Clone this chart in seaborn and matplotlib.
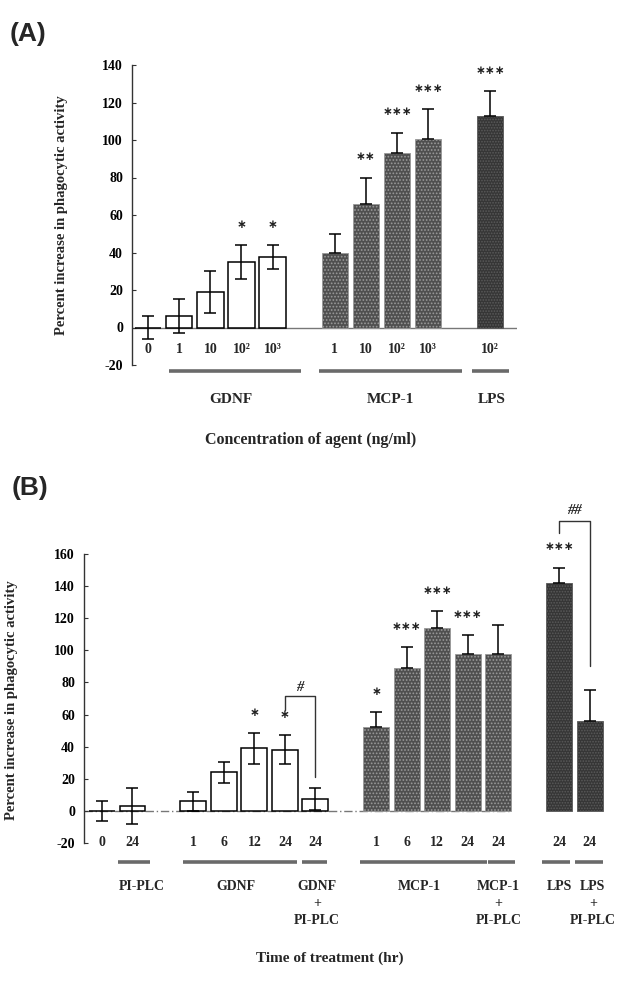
import matplotlib
matplotlib.use("Agg")
import matplotlib.pyplot as plt
import numpy as np
import pandas as pd
import seaborn as sns

# ---------------- Panel A data ----------------
a_keys = ["G0", "G1", "G10", "G100", "G1000", "M1", "M10", "M100", "M1000", "L100"]
a_ticklabels = ["0", "1", "10", "10²", "10³", "1", "10", "10²", "10³", "10²"]
a_kind = ["white", "white", "white", "white", "white", "mcp", "mcp", "mcp", "mcp", "lps"]
a_values = [0, 6, 19, 35, 37.5, 40, 66, 93, 100.5, 113]
a_errors = [6, 9, 11, 9, 6.5, 10, 14, 11, 16, 13]
a_stars = ["", "", "", "*", "*", "", "**", "***", "***", "***"]
a_groups = ["GDNF", "MCP-1", "LPS"]
a_order = ["G0", "G1", "G10", "G100", "G1000", "_s1",
           "M1", "M10", "M100", "M1000", "_s2", "L100"]

# ---------------- Panel B data ----------------
b_keys = ["C0", "P24", "G1", "G6", "G12", "G24", "GP24",
          "M1", "M6", "M12", "M24", "MP24", "L24", "LP24"]
b_ticklabels = ["0", "24", "1", "6", "12", "24", "24",
                "1", "6", "12", "24", "24", "24", "24"]
b_kind = ["white", "white", "white", "white", "white", "white", "white",
          "mcp", "mcp", "mcp", "mcp", "mcp", "lps", "lps"]
b_values = [0, 3, 6, 24, 39, 38, 7.5, 52, 89, 114, 97.5, 98, 142, 56]
b_errors = [6, 11, 6, 6.5, 9.5, 9, 7, 9.5, 13, 10.5, 12, 18, 9.5, 19.5]
b_stars = ["", "", "", "", "*", "*", "", "*", "***", "***", "***", "", "***", ""]
b_groups = ["PI-PLC", "GDNF", "GDNF\n+\nPI-PLC", "MCP-1", "MCP-1\n+\nPI-PLC",
            "LPS", "LPS\n+\nPI-PLC"]
b_order = ["C0", "P24", "_s1", "G1", "G6", "G12", "G24", "GP24", "_s2",
           "M1", "M6", "M12", "M24", "MP24", "_s3", "L24", "LP24"]
b_sig = [("G24", "GP24", "#"), ("L24", "LP24", "##")]

# ---------------- style ----------------
sns.set_theme(style="white")
plt.rcParams["font.family"] = ["Liberation Serif", "DejaVu Serif"]
plt.rcParams["font.weight"] = "bold"
plt.rcParams["hatch.linewidth"] = 0.8

palette = {"white": "white", "mcp": "#4f4f4f", "lps": "#363636"}
SERIF = dict(family=["Liberation Serif", "DejaVu Serif"], weight="bold")
STAR = dict(family=["DejaVu Sans"], weight="bold")

fig = plt.figure(figsize=(6.22, 9.81), dpi=100)
axA = fig.add_axes([132 / 622, 1 - 365 / 981, 385 / 622, 300 / 981])
axB = fig.add_axes([84 / 622, 1 - 843 / 981, 521 / 622, 289 / 981])


def style_bars(ax):
    for p in ax.patches:
        fc = matplotlib.colors.to_hex(p.get_facecolor())
        if fc == "#ffffff":
            p.set_edgecolor("black")
            p.set_linewidth(1.1)
        elif fc == palette["mcp"]:
            p.set_edgecolor("#9a9a9a")
            p.set_hatch(".....")
            p.set_linewidth(0.6)
        else:
            p.set_edgecolor("#5a5a5a")
            p.set_hatch("......")
            p.set_linewidth(0.6)


def draw_panel(ax, keys, order, kinds, values, errors):
    df = pd.DataFrame({"key": keys, "value": values, "kind": kinds})
    sns.barplot(data=df, x="key", y="value", hue="kind", order=order,
                palette=palette, dodge=False, width=0.85, legend=False,
                saturation=1, ax=ax)
    style_bars(ax)
    pos = np.array([order.index(k) for k in keys], dtype=float)
    vals = np.array(values, dtype=float)
    errs = np.array(errors, dtype=float)
    dark = np.array([k != "white" for k in kinds])
    lower = np.where(dark, 0.0, errs)
    ax.errorbar(pos, vals, yerr=[lower, errs], fmt="none", ecolor="black",
                elinewidth=1.1, capsize=4.5, capthick=1.1, zorder=5)
    return pos, vals, errs


def clean_axis(ax, ylim, yticks):
    ax.set_ylim(*ylim)
    ax.set_yticks(yticks)
    ax.set_yticklabels([str(t) for t in yticks], fontsize=10, **SERIF)
    ax.set_xticks([])
    ax.set_xlabel("")
    ax.set_ylabel("")
    for s in ["top", "right", "bottom"]:
        ax.spines[s].set_visible(False)
    ax.spines["left"].set_color("#333333")
    ax.spines["left"].set_linewidth(1.0)
    ax.tick_params(axis="y", direction="in", length=3, width=0.8,
                   left=True, pad=6.5, colors="#333333", labelcolor="black")
    ax.patch.set_alpha(0)


# ---------------- Panel A ----------------
posA, valsA, errsA = draw_panel(axA, a_keys, a_order, a_kind, a_values, a_errors)
axA.set_xlim(-0.52, 11.86)
clean_axis(axA, (-20, 140), list(range(-20, 141, 20)))
axA.plot([-0.52, 11.85], [0, 0], color="#777777", lw=1.0, zorder=0.5)
for x, lab in zip(posA, a_ticklabels):
    axA.text(x, -11.7, lab, ha="center", va="center", fontsize=10, **SERIF)
for x, v, e, s in zip(posA, valsA, errsA, a_stars):
    if s:
        axA.text(x, v + e + 11, "∗" * len(s), ha="center", va="center",
                 fontsize=8.5, color="#222222", **STAR)
a_spans = [(0.68, 4.9), (5.5, 10.1), (10.4, 11.6)]
a_label_x = [2.65, 7.8, 11.05]
for (x0, x1), lab, lx in zip(a_spans, a_groups, a_label_x):
    axA.plot([x0, x1], [-23, -23], color="#6a6a6a", lw=2.6, clip_on=False,
             solid_capstyle="butt")
    axA.text(lx, -38.5, lab, ha="center", va="center", fontsize=11,
             clip_on=False, **SERIF)
fig.text(311 / 622, 1 - 440 / 981, "Concentration of agent (ng/ml)",
         ha="center", va="center", fontsize=11.5, **SERIF)
fig.text(62 / 622, 1 - 215 / 981, "Percent increase in phagocytic activity",
         rotation=90, ha="center", va="center", fontsize=10.5, **SERIF)
fig.text(10 / 622, 1 - 34 / 981, "(A)", ha="left", va="center",
         fontsize=19, family=["Liberation Sans"], weight="bold")

# ---------------- Panel B ----------------
posB, valsB, errsB = draw_panel(axB, b_keys, b_order, b_kind, b_values, b_errors)
axB.set_xlim(-0.59, 16.5)
clean_axis(axB, (-20, 160), list(range(-20, 161, 20)))
axB.plot([-0.59, 13.4], [0, 0], color="#777777", lw=1.0, ls=(0, (6, 2, 1, 2)),
         zorder=0.5)
for x, lab in zip(posB, b_ticklabels):
    axB.text(x, -20, lab, ha="center", va="center", fontsize=10, **SERIF)
for x, v, e, s in zip(posB, valsB, errsB, b_stars):
    if s:
        axB.text(x, v + e + 13, "∗" * len(s), ha="center", va="center",
                 fontsize=8.5, color="#222222", **STAR)
b_spans = [(0.52, 1.57), (2.66, 6.39), (6.56, 7.38), (8.46, 12.62),
           (12.66, 13.54), (14.43, 15.34), (15.5, 16.43)]
b_label_x = [1.3, 4.4, 7.05, 10.4, 13.0, 15.0, 16.1]
for (x0, x1), lab, lx in zip(b_spans, b_groups, b_label_x):
    axB.plot([x0, x1], [-31.8, -31.8], color="#6a6a6a", lw=2.6, clip_on=False,
             solid_capstyle="butt")
    axB.text(lx, -43, lab, ha="center", va="top", fontsize=10,
             linespacing=1.4, multialignment="center", clip_on=False, **SERIF)

# significance brackets
br_params = {"#": (63, 71.5, 21, 77), "##": (173, 180.5, 90, 187)}
for k1, k2, mark in b_sig:
    i1, i2 = b_keys.index(k1), b_keys.index(k2)
    y_l, y_top, y_r, y_txt = br_params[mark]
    x1, x2 = posB[i1], posB[i2]
    axB.plot([x1, x1, x2, x2], [y_l, y_top, y_top, y_r], color="#333333",
             lw=1.0, clip_on=False)
    axB.text((x1 + x2) / 2, y_txt, mark, ha="center", va="center",
             fontsize=10.5, style="italic", clip_on=False, **SERIF)

fig.text(330 / 622, 1 - 958 / 981, "Time of treatment (hr)",
         ha="center", va="center", fontsize=11, **SERIF)
fig.text(12 / 622, 1 - 700 / 981, "Percent increase in phagocytic activity",
         rotation=90, ha="center", va="center", fontsize=10.5, **SERIF)
fig.text(12 / 622, 1 - 488 / 981, "(B)", ha="left", va="center",
         fontsize=19, family=["Liberation Sans"], weight="bold")

fig.savefig("out.png", dpi=100, facecolor="white")
